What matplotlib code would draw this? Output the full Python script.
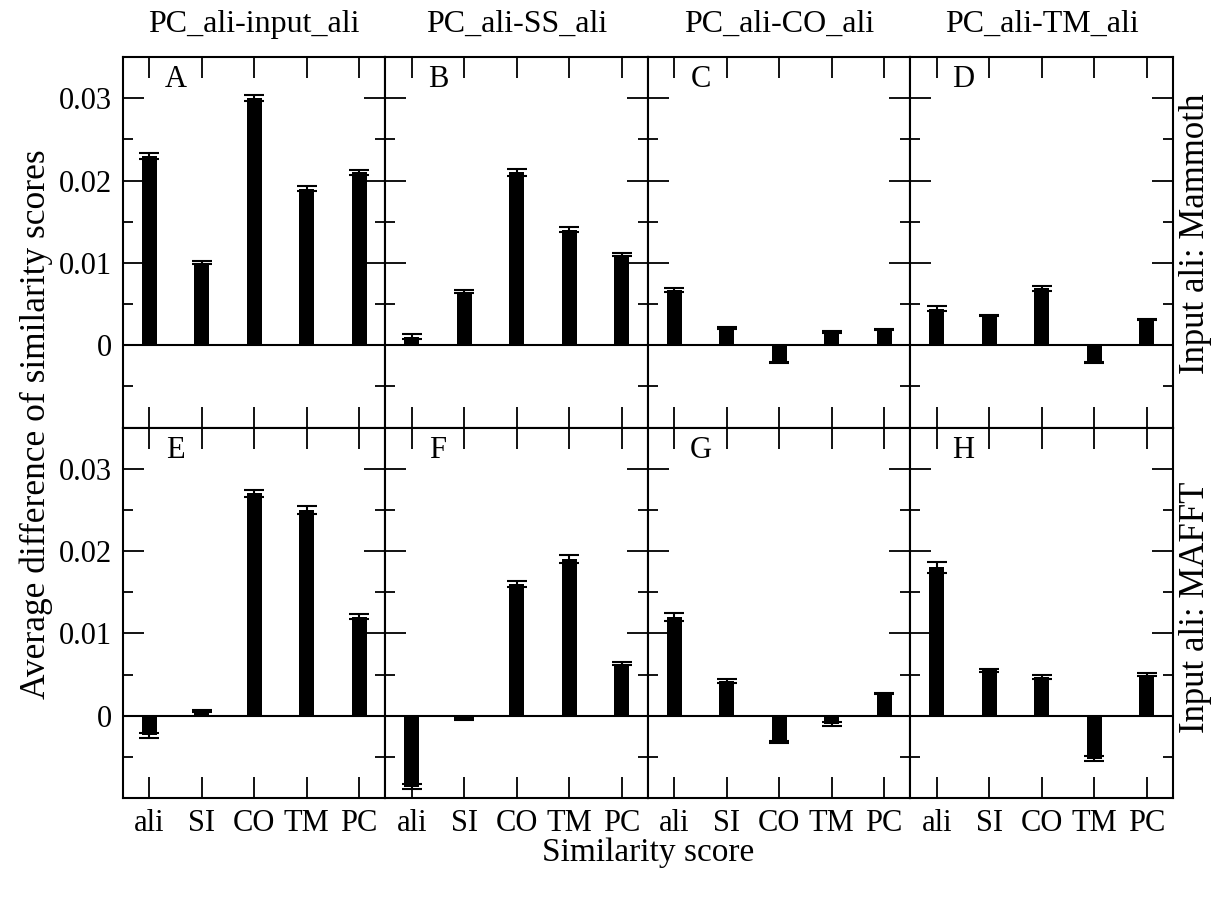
import matplotlib
matplotlib.use("Agg")
import matplotlib.pyplot as plt
import matplotlib.ticker as ticker
import numpy as np

plt.rcParams['font.family'] = ['Liberation Serif', 'DejaVu Serif']

scores = ["ali", "SI", "CO", "TM", "PC"]
col_titles = ["PC_ali-input_ali", "PC_ali-SS_ali", "PC_ali-CO_ali", "PC_ali-TM_ali"]
row_labels = ["Input ali: Mammoth", "Input ali: MAFFT"]
panel_letters = ["A", "B", "C", "D", "E", "F", "G", "H"]
y_major = [0, 0.01, 0.02, 0.03]
y_minor = [-0.005, 0.005, 0.015, 0.025]

# top row: Mammoth input
mean_A = [0.023, 0.010, 0.030, 0.019, 0.021]
err_A = [0.0004, 0.0002, 0.0004, 0.0003, 0.0003]
mean_B = [0.001, 0.0065, 0.021, 0.014, 0.011]
err_B = [0.0003, 0.0002, 0.0004, 0.0003, 0.0002]
mean_C = [0.0067, 0.0021, -0.0021, 0.0016, 0.0019]
err_C = [0.0003, 0.0001, 0.0001, 0.0001, 0.0001]
mean_D = [0.0044, 0.0036, 0.0069, -0.0021, 0.0031]
err_D = [0.0003, 0.0001, 0.0003, 0.0001, 0.0001]

# bottom row: MAFFT input
mean_E = [-0.0024, 0.0006, 0.027, 0.025, 0.012]
err_E = [0.0003, 0.0001, 0.0004, 0.0005, 0.0003]
mean_F = [-0.0086, -0.0004, 0.016, 0.019, 0.0063]
err_F = [0.0003, 0.0001, 0.0004, 0.0005, 0.0002]
mean_G = [0.012, 0.0042, -0.0032, -0.0010, 0.0027]
err_G = [0.0005, 0.0002, 0.0001, 0.0002, 0.0001]
mean_H = [0.018, 0.0055, 0.0047, -0.0052, 0.005]
err_H = [0.0007, 0.0002, 0.0002, 0.0003, 0.0002]

means = [mean_A, mean_B, mean_C, mean_D, mean_E, mean_F, mean_G, mean_H]
errs = [err_A, err_B, err_C, err_D, err_E, err_F, err_G, err_H]

fig, axes = plt.subplots(2, 4, sharex=True, sharey=True, figsize=(12.21, 8.99), dpi=100)
fig.subplots_adjust(left=0.1007, right=0.9607, top=0.9366, bottom=0.1123, wspace=0, hspace=0)

x = np.arange(1, len(scores) + 1)
for i, ax in enumerate(axes.flat):
    ax.bar(x, means[i], width=0.29, color='black')
    ax.errorbar(x, means[i], yerr=errs[i], fmt='none', ecolor='black',
                elinewidth=1.5, capsize=7, capthick=1.5)
    ax.axhline(0, color='black', linewidth=1.5)
    ax.set_xlim(0.5, 5.5)
    ax.set_ylim(-0.01, 0.035)
    ax.set_xticks(x)
    ax.set_xticklabels(scores)
    ax.yaxis.set_major_locator(ticker.FixedLocator(y_major))
    ax.yaxis.set_minor_locator(ticker.FixedLocator(y_minor))
    ax.yaxis.set_major_formatter(ticker.FuncFormatter(lambda v, p: "%g" % round(v, 4)))
    ax.tick_params(axis='both', which='major', direction='in', length=15, width=1.3,
                   top=True, right=True, labelsize=22, pad=8)
    ax.tick_params(axis='y', which='minor', direction='in', length=7.5, width=1.3,
                   left=True, right=True)
    for s in ax.spines.values():
        s.set_linewidth(1.5)
    ax.text(0.2, 0.978, panel_letters[i], transform=ax.transAxes, fontsize=22,
            ha='center', va='top')
    ax.label_outer()

for j, t in enumerate(col_titles):
    axes[0, j].set_title(t, fontsize=23, pad=18)

fig.text(0.979, 0.740, row_labels[0], rotation=90, ha='center', va='center', fontsize=25)
fig.text(0.979, 0.324, row_labels[1], rotation=90, ha='center', va='center', fontsize=25)
fig.text(0.03, 0.528, "Average difference of similarity scores", rotation=90,
         ha='center', va='center', fontsize=25.5)
fig.text(0.531, 0.052, "Similarity score", ha='center', va='center', fontsize=24)

fig.savefig('out.png', dpi=100)
